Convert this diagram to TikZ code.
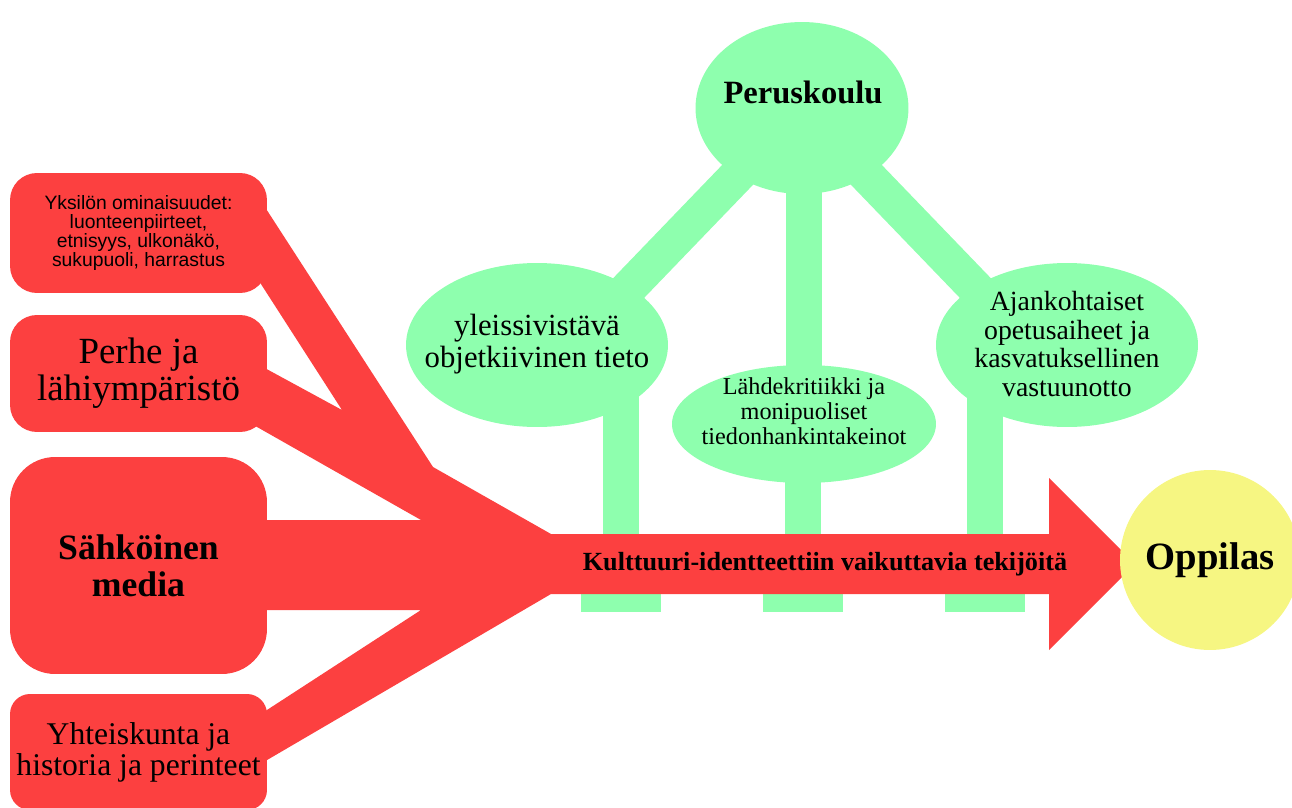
\documentclass[tikz,border=0pt]{standalone}
\usepackage{fontspec}
\setmainfont{Liberation Serif}
\setsansfont{Liberation Sans}
\usepackage{xcolor}
\usepackage{tikz}
\usetikzlibrary{shapes.geometric}
\definecolor{punainen}{RGB}{252,64,64}
\definecolor{vihrea}{RGB}{142,255,174}
\definecolor{keltainen}{RGB}{246,246,130}
\tikzstyle{tekija} = [fill=punainen,rounded corners=0.54cm,minimum width=5.14cm,inner sep=0pt,align=center]
\tikzstyle{aihe} = [ellipse,fill=vihrea,inner sep=0pt,minimum width=5.24cm,minimum height=3.28cm]
\tikzstyle{varsi} = [draw=vihrea,line width=0.72cm]
\tikzstyle{jalka} = [fill=vihrea,minimum width=1.6cm,minimum height=0.8cm,inner sep=0pt]
\tikzstyle{teksti} = [align=center,inner sep=0pt]

\begin{document}
\begin{tikzpicture}[x=0.02cm,y=-0.02cm]
	\clip (0,0) rectangle (1292,808);
	
	% Peruskoulu and its three topics:
	\node [aihe,minimum width=4.26cm,minimum height=3.44cm] (perus) at (802,108) {};
	\node [aihe] (yleis) at (537,345) {};
	\node [aihe,minimum width=5.28cm,minimum height=2.36cm] (lahde) at (804,424) {};
	\node [aihe] (ajank) at (1067,345) {};
	
	% Branches:
	% thick green lines, drawn over the ellipses in the same colour
	\draw [varsi,shorten >=-0.5cm] (perus.center) -- (yleis.north east);
	\draw [varsi,shorten >=-0.5cm] (perus.center) -- (ajank.north west);
	\draw [varsi] (perus.center -| lahde) -- (lahde.center);
	
	% Feet and stems down to the arrow:
	\node [jalka] (jalka1) at (621,592) {};
	\node [jalka] (jalka2) at (803,592) {};
	\node [jalka] (jalka3) at (985,592) {};
	\draw [varsi] (jalka1.center) -- (jalka1 |- yleis);
	\draw [varsi] (jalka2.center) -- (jalka2 |- lahde);
	\draw [varsi] (jalka3.center) -- (jalka3 |- ajank);
	
	% Red funnel and arrow:
	\fill [punainen] (250,184) -- (433,467) -- (551,534) -- (1049,534) -- (1049,478)
		-- (1135,564) -- (1049,650) -- (1049,594) -- (551,594) -- (250,770)
		-- (250,721) -- (421,610) -- (250,610) -- (250,520) -- (421,520)
		-- (250,423) -- (250,360) -- (342,410) -- (250,267) -- cycle;
	
	% Boxes on the left:
	\node [tekija,minimum height=2.4cm,font=\sffamily\fontsize{11}{10.9}\selectfont] (yksilo) at (138.5,233)
		{Yksilön ominaisuudet:\\luonteenpiirteet,\\etnisyys, ulkonäkö,\\sukupuoli, harrastus};
	\node [tekija,minimum height=2.34cm,font=\fontsize{21}{21}\selectfont] (perhe) at (138.5,373.5)
		{Perhe ja\\lähiympäristö};
	\node [tekija,minimum height=4.34cm,rounded corners=0.9cm,font=\bfseries\fontsize{20.3}{21}\selectfont] (media) at (138.5,565.5)
		{Sähköinen\\media};
	\node [tekija,minimum height=2.32cm,rounded corners=0.4cm,font=\fontsize{18}{17.6}\selectfont] (yhteis) at (138.5,752)
		{Yhteiskunta ja\\historia ja perinteet};
	
	% Oppilas:
	\node [circle,fill=keltainen,minimum size=3.6cm,inner sep=0pt,font=\bfseries\fontsize{22}{24}\selectfont] (oppilas) at (1210,560) {Oppilas};
	
	% Texts:
	\node [teksti,anchor=base,font=\bfseries\fontsize{18.5}{20}\selectfont] (perusteksti) at (803,103) {Peruskoulu};
	\node [teksti,font=\fontsize{17.5}{18}\selectfont] (yleisteksti) at (537,344) {yleissivistävä\\objetkiivinen tieto};
	\node [teksti,font=\fontsize{13.8}{14.2}\selectfont] (lahdeteksti) at (804,411) {Lähdekritiikki ja\\monipuoliset\\tiedonhankintakeinot};
	\node [teksti,font=\fontsize{15.8}{16.4}\selectfont] (ajankteksti) at (1067,344) {Ajankohtaiset\\opetusaiheet ja\\kasvatuksellinen\\vastuunotto};
	\node [teksti,anchor=base,font=\bfseries\fontsize{14.9}{16}\selectfont] (nuoliteksti) at (825,570) {Kulttuuri-identteettiin vaikuttavia tekijöitä};
	
\end{tikzpicture}
\end{document}
